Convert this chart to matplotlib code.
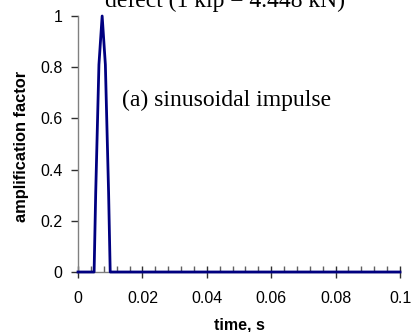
import matplotlib
matplotlib.use('Agg')
from matplotlib import pyplot as plt
from matplotlib.ticker import MultipleLocator
import numpy as np

# half-sine pulse between 0.005 s and 0.01 s
time = [0.0, 0.005, 0.0055, 0.0065, 0.0075, 0.0085, 0.0095, 0.01, 0.1]
amp = [0.0, 0.0, 0.31, 0.81, 1.0, 0.81, 0.31, 0.0, 0.0]

x_ticks = [0, 0.02, 0.04, 0.06, 0.08, 0.1]
x_labels = ['0', '0.02', '0.04', '0.06', '0.08', '0.1']
y_ticks = [0, 0.2, 0.4, 0.6, 0.8, 1]
y_labels = ['0', '0.2', '0.4', '0.6', '0.8', '1']

plt.rcParams['font.family'] = ['Liberation Sans', 'DejaVu Sans']
serif = ['Liberation Serif', 'DejaVu Serif']

fig = plt.figure(figsize=(4.12, 3.32), dpi=100)
ax = fig.add_axes([78 / 412, 60 / 332, 322 / 412, 256 / 332])

ax.plot(time, amp, color='#000080', lw=2, clip_on=False, zorder=5)

ax.set_xlim(0, 0.1)
ax.set_ylim(0, 1)
ax.set_xticks(x_ticks)
ax.set_xticklabels(x_labels, fontsize=11.5)
ax.set_yticks(y_ticks)
ax.set_yticklabels(y_labels, fontsize=11.5)
ax.xaxis.set_minor_locator(MultipleLocator(0.004))

for s in ['top', 'right']:
    ax.spines[s].set_visible(False)
for s in ['left', 'bottom']:
    ax.spines[s].set_color('#808080')
    ax.spines[s].set_linewidth(1)

ax.tick_params(axis='x', which='major', direction='inout', length=8, width=1, color='#303030', pad=10)
ax.tick_params(axis='x', which='minor', direction='in', length=4, width=1, color='#606060')
ax.tick_params(axis='y', which='major', direction='out', length=5, width=1, color='#303030', pad=6)

ax.set_xlabel('time, s', fontsize=11.5, fontweight='bold', va='center')
ax.xaxis.set_label_coords(0.5, -0.207)
ax.set_ylabel('amplification factor', fontsize=11.8, fontweight='bold', va='center')
ax.yaxis.set_label_coords(-0.174, 0.492)

# title is partly cut by the top edge, as in the source figure
fig.text(225 / 412, 325 / 332, 'defect (1 kip = 4.448 kN)', ha='center', va='baseline',
         fontsize=17, family=serif)
ax.text(0.137, 0.648, '(a) sinusoidal impulse', transform=ax.transAxes,
        fontsize=17, family=serif, va='baseline')

fig.savefig('out.png', dpi=100)
